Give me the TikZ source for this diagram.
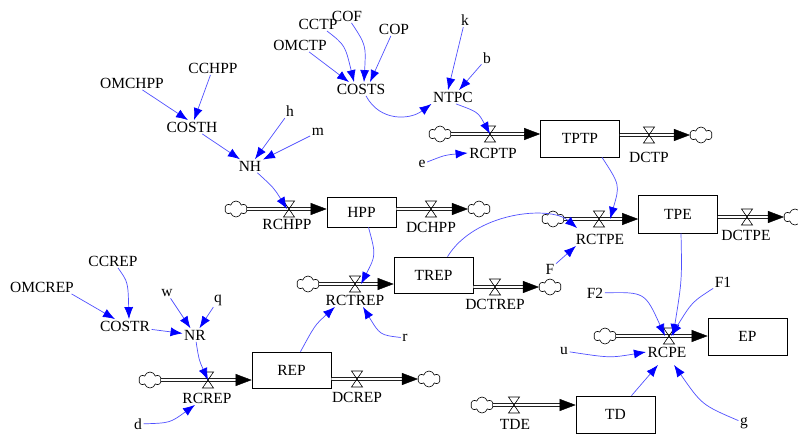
\documentclass[tikz,border=0pt]{standalone}
\usepackage{fontspec}
\setmainfont{Liberation Serif}
\usetikzlibrary{arrows.meta,shapes.symbols}
\definecolor{lnk}{RGB}{80,80,255}
\definecolor{hd}{RGB}{0,0,255}
\begin{document}
\begin{tikzpicture}[x=1pt,y=-1pt,font=\fontsize{15.5}{17}\selectfont,
  lbl/.style={inner sep=1.5pt},
  stock/.style={draw,line width=0.7pt,minimum width=79pt,minimum height=37pt,inner sep=0pt},
  pipe/.style={draw=black,double=white,double distance=2.4pt,line width=0.75pt},
  cld/.style={cloud,draw,cloud puffs=6,aspect=1.3,minimum width=22pt,minimum height=16pt,inner sep=0pt,line width=0.6pt},
  link/.style={draw=lnk,line width=0.7pt,-{Latex[length=12pt,width=9pt,color=hd]}},
  fhead/.style={-{Triangle[length=16pt,width=12pt]},line width=0.4pt},
  valve/.pic={\coordinate (-c) at (0,0); \draw[line width=0.6pt] (-5.5,-8) -- (5.5,-8) -- (-5.5,8) -- (5.5,8) -- cycle;}
]
\useasboundingbox (0,0) rectangle (798,434);

% ---------- stocks ----------
\node[stock] (TPTP) at (580,138.5) {TPTP};
\node[stock,minimum width=69pt,minimum height=30pt] (HPP) at (361.5,212) {HPP};
\node[stock,minimum height=36pt] (TREP) at (433.5,275) {TREP};
\node[stock,minimum height=38pt] (TPE) at (678,214) {TPE};
\node[stock,minimum height=36pt] (REP) at (291.5,370) {REP};
\node[stock] (EP) at (747.5,336.5) {EP};
\node[stock] (TD) at (615.5,414.5) {TD};

% ---------- flows ----------
% RCPTP -> TPTP
\node[cld] (cA) at (440,134) {};
\coordinate (eA) at (TPTP.west |- cA);
\draw[pipe,shorten >=14pt] (cA.east) -- (eA);
\draw[fhead] ([xshift=-16pt]eA) -- (eA);
\pic (vA) at (490,134) {valve};
% TPTP -> DCTP
\node[cld] (cB) at (701,135) {};
\coordinate (sB) at (TPTP.east |- cB);
\draw[pipe,shorten >=14pt] (sB) -- (cB.west);
\draw[fhead] ([xshift=-16pt]cB.west) -- (cB.west);
\pic (vB) at (649,135) {valve};
% RCHPP -> HPP
\node[cld] (cC) at (236,209) {};
\coordinate (eC) at (HPP.west |- cC);
\draw[pipe,shorten >=14pt] (cC.east) -- (eC);
\draw[fhead] ([xshift=-16pt]eC) -- (eC);
\pic (vC) at (289,209) {valve};
% HPP -> DCHPP
\node[cld] (cD) at (479,209) {};
\coordinate (sD) at (HPP.east |- cD);
\draw[pipe,shorten >=14pt] (sD) -- (cD.west);
\draw[fhead] ([xshift=-16pt]cD.west) -- (cD.west);
\pic (vD) at (431,209) {valve};
% RCTREP -> TREP
\node[cld] (cE) at (308,284) {};
\coordinate (eE) at (TREP.west |- cE);
\draw[pipe,shorten >=14pt] (cE.east) -- (eE);
\draw[fhead] ([xshift=-16pt]eE) -- (eE);
\pic (vE) at (355,284) {valve};
% TREP -> DCTREP
\node[cld] (cF) at (550,287) {};
\coordinate (sF) at (TREP.east |- cF);
\draw[pipe,shorten >=14pt] (sF) -- (cF.west);
\draw[fhead] ([xshift=-16pt]cF.west) -- (cF.west);
\pic (vF) at (495,287) {valve};
% RCTPE -> TPE
\node[cld] (cG) at (553,219) {};
\coordinate (eG) at (TPE.west |- cG);
\draw[pipe,shorten >=14pt] (cG.east) -- (eG);
\draw[fhead] ([xshift=-16pt]eG) -- (eG);
\pic (vG) at (599,219) {valve};
% TPE -> DCTPE
\node[cld] (cH) at (795,217) {};
\coordinate (sH) at (TPE.east |- cH);
\draw[pipe,shorten >=14pt] (sH) -- (cH.west);
\draw[fhead] ([xshift=-16pt]cH.west) -- (cH.west);
\pic (vH) at (747,217) {valve};
% RCREP -> REP
\node[cld] (cI) at (150,380) {};
\coordinate (eI) at (REP.west |- cI);
\draw[pipe,shorten >=14pt] (cI.east) -- (eI);
\draw[fhead] ([xshift=-16pt]eI) -- (eI);
\pic (vI) at (208,380) {valve};
% REP -> DCREP
\node[cld] (cJ) at (429,379) {};
\coordinate (sJ) at (REP.east |- cJ);
\draw[pipe,shorten >=14pt] (sJ) -- (cJ.west);
\draw[fhead] ([xshift=-16pt]cJ.west) -- (cJ.west);
\pic (vJ) at (357,379) {valve};
% RCPE -> EP
\node[cld] (cK) at (605,336) {};
\coordinate (eK) at (EP.west |- cK);
\draw[pipe,shorten >=14pt] (cK.east) -- (eK);
\draw[fhead] ([xshift=-16pt]eK) -- (eK);
\pic (vK) at (669,336) {valve};
% TDE -> TD
\node[cld] (cL) at (482,405) {};
\coordinate (eL) at (TD.west |- cL);
\draw[pipe,shorten >=14pt] (cL.east) -- (eL);
\draw[fhead] ([xshift=-16pt]eL) -- (eL);
\pic (vL) at (514,405) {valve};

% ---------- labels ----------
\node[lbl] (OMCTP) at (300,45) {OMCTP};
\node[lbl] (CCTP) at (318,24) {CCTP};
\node[lbl] (COF) at (347,16) {COF};
\node[lbl] (COP) at (394,29) {COP};
\node[lbl] (COSTS) at (361,89) {COSTS};
\node[lbl] (k) at (465,20) {k};
\node[lbl] (b) at (487,58) {b};
\node[lbl] (NTPC) at (453,97) {NTPC};
\node[lbl] (e) at (422,164) {e};
\node[lbl] (RCPTP) at (493,153) {RCPTP};
\node[lbl] (DCTP) at (649,157) {DCTP};
\node[lbl] (OMCHPP) at (132,83) {OMCHPP};
\node[lbl] (CCHPP) at (213,68) {CCHPP};
\node[lbl] (COSTH) at (192,127) {COSTH};
\node[lbl] (h) at (290,111) {h};
\node[lbl] (m) at (318,132) {m};
\node[lbl] (NH) at (250,166) {NH};
\node[lbl] (RCHPP) at (287,224) {RCHPP};
\node[lbl] (DCHPP) at (431,227) {DCHPP};
\node[lbl] (RCTREP) at (355,300) {RCTREP};
\node[lbl] (DCTREP) at (495,304) {DCTREP};
\node[lbl] (r) at (405,338) {r};
\node[lbl] (RCTPE) at (600,239) {RCTPE};
\node[lbl] (DCTPE) at (746,235) {DCTPE};
\node[lbl] (F) at (550,269) {F};
\node[lbl] (OMCREP) at (42,287) {OMCREP};
\node[lbl] (CCREP) at (113,261) {CCREP};
\node[lbl] (COSTR) at (125,326) {COSTR};
\node[lbl] (w) at (167,293) {w};
\node[lbl] (q) at (218,300) {q};
\node[lbl] (NR) at (195,335) {NR};
\node[lbl] (RCREP) at (207,398) {RCREP};
\node[lbl] (DCREP) at (357,397) {DCREP};
\node[lbl] (d) at (138,424) {d};
\node[lbl] (F2) at (595,293) {F2};
\node[lbl] (F1) at (723,282) {F1};
\node[lbl] (u) at (564,351) {u};
\node[lbl] (RCPE) at (667,352) {RCPE};
\node[lbl] (g) at (744,423) {g};
\node[lbl] (TDE) at (515,424) {TDE};

% ---------- links ----------
\draw[link] (OMCTP) -- ([xshift=-12pt]COSTS.north);
\draw[link] (CCTP) .. controls (345,45) .. ([xshift=-7pt]COSTS.north);
\draw[link] (COF) .. controls (366,45) .. ([xshift=3pt]COSTS.north);
\draw[link] (COP) -- ([xshift=9pt]COSTS.north);
\draw[link] (k) -- ([xshift=-5pt]NTPC.north);
\draw[link] (b) -- ([xshift=6pt]NTPC.north);
\draw[link] ([xshift=5pt]COSTS.south) .. controls (380,122) and (410,120) .. (NTPC.south west);
\draw[link] ([xshift=3pt]NTPC.south) .. controls (478,112) .. (vA-c);
\draw[link] (e) .. controls (445,155) .. (RCPTP.west);

\draw[link] (OMCHPP) -- ([xshift=-4pt]COSTH.north);
\draw[link] (CCHPP) -- ([xshift=2pt]COSTH.north);
\draw[link] (COSTH) -- (NH);
\draw[link] (h) -- (NH);
\draw[link] (m) -- (NH);
\draw[link] (NH) .. controls (274,188) .. ([xshift=-2pt]vC-c);

\draw[link] ([xshift=7pt]HPP.south) .. controls (376,255) .. ([xshift=6pt]vE-c);
\draw[link] ([xshift=9pt]REP.north) .. controls (315,325) .. ([xshift=-20pt]RCTREP.south);
\draw[link] (r) .. controls (380,335) .. ([xshift=8pt]RCTREP.south);
\draw[link] ([xshift=14pt]TREP.north) .. controls (475,212) and (550,205) .. ([xshift=3pt,yshift=4pt]RCTPE.north west);
\draw[link] ([xshift=22pt]TPTP.south) .. controls (620,185) .. ([xshift=11pt]vG-c);
\draw[link] (F) -- ([xshift=-24pt]RCTPE.south);

\draw[link] ([xshift=-4pt]OMCREP.south east) -- ([xshift=-10pt]COSTR.north);
\draw[link] ([xshift=5pt]CCREP.south) .. controls (128,282) .. ([xshift=4pt]COSTR.north);
\draw[link] (COSTR) -- (NR);
\draw[link] (w) -- (NR);
\draw[link] (q) -- (NR);
\draw[link] (NR) .. controls (199,360) .. (vI-c);
\draw[link] (d) .. controls (170,423) .. ([xshift=-12pt]RCREP.south);

\draw[link] ([xshift=3pt]TPE.south) .. controls (682,280) .. ([xshift=4pt]vK-c);
\draw[link] (F2) .. controls (645,292) .. ([xshift=-4pt]vK-c);
\draw[link] (F1) .. controls (692,302) .. ([xshift=2pt]vK-c);
\draw[link] (u) .. controls (610,358) .. (RCPE.west);
\draw[link] ([xshift=16pt]TD.north) -- ([xshift=-9pt,yshift=-6pt]RCPE.south);
\draw[link] (g) .. controls (702,405) .. ([xshift=7pt,yshift=-6pt]RCPE.south);
\end{tikzpicture}
\end{document}
